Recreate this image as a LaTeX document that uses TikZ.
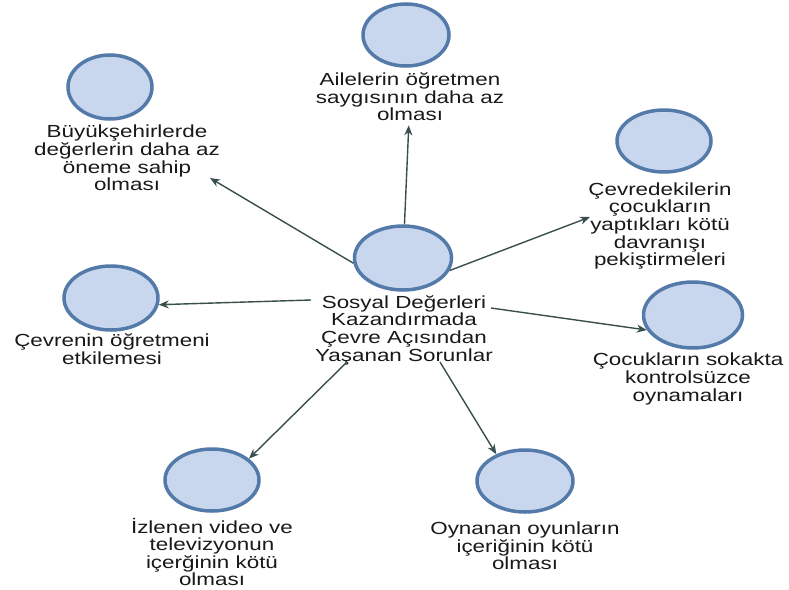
\documentclass[tikz,border=0pt]{standalone}
\usepackage{fontspec}
\setmainfont{Liberation Sans}[FakeStretch=1.28]
\usepackage{xcolor}
\usepackage{tikz}
\usetikzlibrary{shapes,arrows.meta,positioning,calc}

\definecolor{ringblue}{RGB}{84,122,170}
\definecolor{fillblue}{RGB}{200,215,238}
\definecolor{arrgray}{RGB}{58,78,78}
\definecolor{txtgray}{RGB}{25,25,25}

\begin{document}
\begin{tikzpicture}[
    x=1pt, y=-1pt,
    circ/.style={ellipse, draw=ringblue, fill=fillblue, line width=3.5pt, inner sep=0pt, minimum width=94pt, minimum height=62pt},
    lbl/.style={align=center, inner sep=0pt, text=txtgray, font=\fontsize{17.5}{17.6}\selectfont},
    arr/.style={-{Stealth[length=10pt,width=8pt]}, line width=1.4pt, draw=arrgray}
]
    \path[use as bounding box, fill=white] (0,0) rectangle (789,589);

    % circles
    \node [circ, minimum width=97pt, minimum height=64pt] (c0) at (403,258) {};
    \node [circ, minimum width=86pt] (c1) at (406,35) {};
    \node [circ, minimum width=84pt, minimum height=64pt] (c2) at (110,87) {};
    \node [circ] (c3) at (664,141) {};
    \node [circ, minimum height=64pt] (c4) at (111,298) {};
    \node [circ, minimum width=99pt, minimum height=66pt] (c5) at (693,315) {};
    \node [circ] (c6) at (212,480) {};
    \node [circ, minimum width=96pt] (c7) at (525,481) {};

    % labels
    \node [lbl] (t0) at (404,330) {Sosyal Değerleri\\Kazandırmada\\Çevre Açısından\\Yaşanan Sorunlar};
    \node [lbl] (t1) at (410,97) {Ailelerin öğretmen\\saygısının daha az\\olması};
    \node [lbl] (t2) at (127,158) {Büyükşehirlerde\\değerlerin daha az\\öneme sahip\\olması};
    \node [lbl] (t3) at (660,226) {Çevredekilerin\\çocukların\\yaptıkları kötü\\davranışı\\pekiştirmeleri};
    \node [lbl] (t4) at (112,349) {Çevrenin öğretmeni\\etkilemesi};
    \node [lbl] (t5) at (688,379) {Çocukların sokakta\\kontrolsüzce\\oynamaları};
    \node [lbl] (t6) at (212,552) {İzlenen video ve\\televizyonun\\içerğinin kötü\\olması};
    \node [lbl] (t7) at (525,546) {Oynanan oyunların\\içeriğinin kötü\\olması};

    % loose ends
    \coordinate (p2) at (210,178);
    \coordinate (p3) at (590,217);
    \coordinate (s4) at (311,300);
    \coordinate (s5) at (491,308);
    \coordinate (s6) at (347,362);
    \coordinate (s7) at (440,362);

    \draw [arr, shorten >=4pt] (c0) -- (t1);
    \draw [arr] (c0.186) -- (p2);
    \draw [arr] (c0.-15) -- (p3);
    \draw [arr] (s4) -- (c4.-8);
    \draw [arr] (s5) -- (c5.198);
    \draw [arr] (s6) -- (c6.30);
    \draw [arr] (s7) -- (c7.137);
\end{tikzpicture}
\end{document}
